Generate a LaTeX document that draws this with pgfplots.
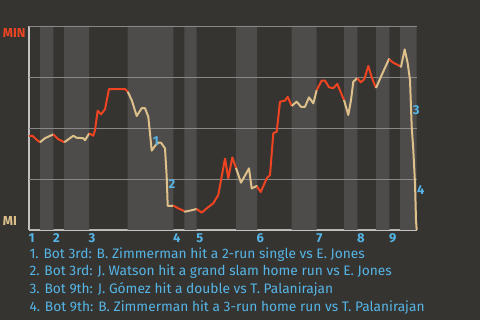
\documentclass[border=0pt]{standalone}
\usepackage{fontspec}
\setmainfont{Fira Sans}
\usepackage{pgfplots}
\pgfplotsset{compat=1.18}
\definecolor{bgc}{HTML}{363431}
\definecolor{bandc}{HTML}{4E4C4A}
\definecolor{gridc}{HTML}{8A8886}
\definecolor{axisc}{HTML}{C4C2C0}
\definecolor{redc}{HTML}{EE4422}
\definecolor{tanc}{HTML}{DDC08A}
\definecolor{labc}{HTML}{55B5E6}
\begin{document}
\begin{tikzpicture}
\fill[bgc] (0,0) rectangle (480bp,320bp);
\begin{axis}[
  at={(29bp,90bp)}, anchor=south west,
  scale only axis, width=387.7bp, height=204bp,
  xmin=0, xmax=387.7, ymin=0, ymax=100,
  clip=false,
  axis x line*=bottom, axis y line*=left,
  axis line style={draw=axisc, line width=1.3bp, -},
  ytick=\empty,
  xtick={0,24.3,60,144.3,167.7,228,287.7,328.3,360.3},
  xticklabels={1,2,3,4,5,6,7,8,9},
  major tick length=0pt,
  /pgf/number format/assume math mode=true,
  xticklabel style={font=\fontsize{13}{13}\selectfont\bfseries, text=labc, anchor=north west, inner sep=0pt, yshift=-3.5bp, xshift=-0.5bp},
]
% half-inning bands
\addplot[const plot, fill=bandc, draw=none] coordinates {
(0,0)(11,100)(24.3,0)(35,100)(60,0)(98.7,100)(144.3,0)(155.3,100)(167.7,0)
(207,100)(228,0)(262.7,100)(287.7,0)(315,100)(328.3,0)(347,100)(360.3,0)(371,100)(387.7,100)} \closedcycle;
% grid lines
\addplot[gridc, line width=0.9bp] coordinates {(0,25)(387.7,25)};
\addplot[gridc, line width=0.9bp] coordinates {(0,50)(387.7,50)};
\addplot[gridc, line width=0.9bp] coordinates {(0,75)(387.7,75)};
\addplot[gridc, line width=0.9bp] coordinates {(0,100)(387.7,100)};

% top 1st
\addplot[redc, line width=2bp, line join=round] coordinates {(0,46.2)(3.3,46.2)(7,44.5)(11,43.0)};
% bot 1st
\addplot[tanc, line width=2bp, line join=round] coordinates {(11,43.0)(16,45.0)(24.3,46.9)};
% top 2nd
\addplot[redc, line width=2bp, line join=round] coordinates {(24.3,46.9)(29.3,44.5)(35.3,43.0)};
% bot 2nd
\addplot[tanc, line width=2bp, line join=round] coordinates {(35.3,43.0)(44.3,46.2)(47.7,45.2)(54.3,45.0)(56,44.0)(60.3,47.4)};
% top 3rd
\addplot[redc, line width=2bp, line join=round] coordinates {(60.3,47.4)(64.3,46.2)(66,49.0)(68.7,58.5)(72,56.7)(76,59.2)(80,69.1)(96,69.1)(98.7,67.8)};
% bot 3rd
\addplot[tanc, line width=2bp, line join=round] coordinates {(98.7,67.8)(102.7,63.7)(107.7,55.9)(112.7,59.7)(116,59.7)(119.3,55.5)(121,47.4)(122.7,38.9)(126.7,41.7)(129.3,42.8)(132,42.8)(136,40.0)(137.7,26.1)(138.7,11.8)(142.7,11.8)(144.3,12.0)};
% top 4th
\addplot[redc, line width=2bp, line join=round] coordinates {(144.3,12.0)(149.3,10.6)(155.3,9.3)};
% bot 4th
\addplot[tanc, line width=2bp, line join=round] coordinates {(155.3,9.3)(156,9.0)(161,9.5)(167.7,10.3)};
% top 5th
\addplot[redc, line width=2bp, line join=round] coordinates {(167.7,10.3)(172.7,8.5)(177.7,10.6)(184.3,13.1)(189.3,17.2)(196,35.0)(199.3,25.3)(203.3,35.6)(207,30.4)};
% bot 5th
\addplot[tanc, line width=2bp, line join=round] coordinates {(207,30.4)(207.7,29.4)(212,23.2)(220,30.2)(222.7,20.4)(227.7,21.6)(228,21.3)};
% top 6th
\addplot[redc, line width=2bp, line join=round] coordinates {(228,21.3)(231.7,18.6)(237.7,25.3)(241,27.0)(244.3,47.4)(247.7,48.2)(251,62.9)(256,63.4)(258.7,65.3)(262.7,60.8)};
% bot 6th
\addplot[tanc, line width=2bp, line join=round] coordinates {(262.7,60.8)(267.7,62.9)(272,60.4)(276,60.4)(280,65.0)(284.3,62.1)(287.7,68.6)};
% top 7th
\addplot[redc, line width=2bp, line join=round] coordinates {(287.7,68.6)(292.7,73.2)(296,73.2)(300,70.0)(304.3,69.5)(308.3,71.6)(315,63.7)};
% bot 7th
\addplot[tanc, line width=2bp, line join=round] coordinates {(315,63.7)(319.3,56.4)(322,63.7)(324.3,72.7)(328.3,74.4)};
% top 8th
\addplot[redc, line width=2bp, line join=round] coordinates {(328.3,74.4)(331.7,72.4)(335.3,73.9)(339.3,80.4)(342.7,74.9)(347,69.6)};
% bot 8th
\addplot[tanc, line width=2bp, line join=round] coordinates {(347,69.6)(352.7,76.0)(360,83.8)(360.3,83.6)};
% top 9th
\addplot[redc, line width=2bp, line join=round] coordinates {(360.3,83.6)(364.3,82.0)(371,80.4)};
% bot 9th
\addplot[tanc, line width=2bp, line join=round] coordinates {(371,80.4)(372,80.0)(375.7,88.5)(378.7,81.7)(381,73.5)(382.7,50.6)(384.3,39.2)(386,22.9)(387,4.9)(387.7,0)};

% event markers
\node[text=labc, font=\fontsize{13}{13}\selectfont\bfseries, inner sep=0pt] at (axis cs:126.8,43.7) {1};
\node[text=labc, font=\fontsize{13}{13}\selectfont\bfseries, inner sep=0pt] at (axis cs:143,22.4) {2};
\node[text=labc, font=\fontsize{13}{13}\selectfont\bfseries, inner sep=0pt] at (axis cs:387.3,58.7) {3};
\node[text=labc, font=\fontsize{13}{13}\selectfont\bfseries, inner sep=0pt] at (axis cs:391.7,19.5) {4};
\end{axis}
\node[anchor=base west, inner sep=0pt, text=redc, font=\fontsize{13}{13}\selectfont\bfseries] at (2.7bp,282.3bp) {MIN};
\node[anchor=base west, inner sep=0pt, text=tanc, font=\fontsize{13}{13}\selectfont\bfseries] at (2.7bp,94bp) {MI};
\node[anchor=base west, inner sep=0pt, text=labc, font=\fontsize{13.8}{16}\selectfont] at (29.3bp,61.4bp) {1. Bot 3rd: B. Zimmerman hit a 2-run single vs E. Jones};
\node[anchor=base west, inner sep=0pt, text=labc, font=\fontsize{13.8}{16}\selectfont] at (29.3bp,44bp) {2. Bot 3rd: J. Watson hit a grand slam home run vs E. Jones};
\node[anchor=base west, inner sep=0pt, text=labc, font=\fontsize{13.8}{16}\selectfont] at (29.3bp,26.4bp) {3. Bot 9th: J. Gómez hit a double vs T. Palanirajan};
\node[anchor=base west, inner sep=0pt, text=labc, font=\fontsize{13.8}{16}\selectfont] at (29.3bp,8.4bp) {4. Bot 9th: B. Zimmerman hit a 3-run home run vs T. Palanirajan};
\useasboundingbox (0,0) rectangle (480bp,320bp);
\end{tikzpicture}
\end{document}
